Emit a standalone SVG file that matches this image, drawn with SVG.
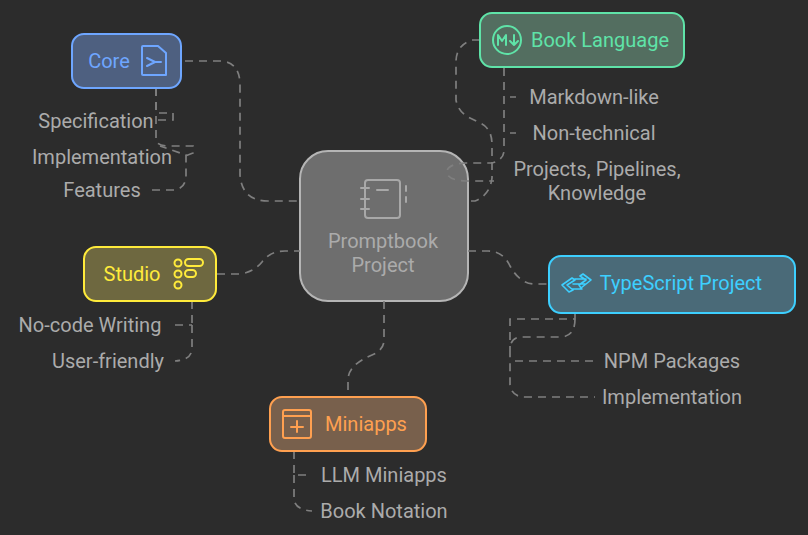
<svg xmlns="http://www.w3.org/2000/svg" width="808" height="535" viewBox="0 0 808 535">
<style>
text{font-family:Roboto,"Liberation Sans",sans-serif;font-size:20px;text-anchor:middle}
.l{fill:#ababab}
.c{fill:none;stroke:#7f7f7f;stroke-width:1.7;stroke-dasharray:8 6}
.i{fill:none;stroke-width:2;stroke-linecap:round;stroke-linejoin:round}
.n{stroke-width:2}
</style>
<rect width="808" height="535" fill="#2c2c2c"/>
<g id="center">
<rect class="n" x="300" y="151" width="168" height="150" rx="28" fill="#6e6e6e" stroke="#b5b5b5"/>
<g class="i" stroke="#a8a8a8">
<rect x="365" y="180" width="35" height="38" rx="3"/>
<path d="M361 188H369M361 199H369M361 209H369M377 190H388M406 186V191M406 197V202"/>
</g>
<text x="383" y="248" class="l">Promptbook</text>
<text x="383" y="272" class="l">Project</text>
</g>
<g id="connectors" class="c">
<path d="M185 61H222Q240 63 240 85V175Q242 201 268 201H300"/>
<path d="M156 88V113H173V120H158"/>
<path d="M156 88V140Q157 146 170 146H193V153L183 157"/>
<path d="M152 190H175Q186 188 186 175V155L160 146"/>
<path d="M480 40H472Q456 45 456 62V100Q458 112 470 118L480 123Q492 128 492 145V178Q490 195 475 201H468"/>
<path d="M504 68V150Q504 160 492 163H466Q447 164 447 172Q447 180 466 181H494"/>
<path d="M510 97H516M510 133H516"/>
<path d="M217 274H240Q254 272 262 262Q270 251 285 251H300"/>
<path d="M192 301V325M175 325H192M192 325V348Q192 360 175 361"/>
<path d="M468 251H488Q503 251 510 266Q520 284 535 284H548"/>
<path d="M575 313V319H510V350M575 319Q575 337 560 337H522Q510 337 510 350V385Q512 397 525 397H595M515 361H595"/>
<path d="M384 301V340Q384 350 372 355Q348 365 348 380V397"/>
<path d="M294 451V475H312M294 475V500Q296 510 312 511"/>
</g>
<g id="core">
<rect class="n" x="72" y="34" width="109" height="54" rx="12" fill="#4e6080" stroke="#6ea6ff"/>
<text x="109" y="68" fill="#6ea6ff">Core</text>
<path class="i" stroke="#6ea6ff" d="M143 46H158L166 53V75H143Q142 75 142 74V47Q142 46 143 46ZM147 58L155 62L147 66M156 62H161"/>
</g>
<g id="book-language">
<rect class="n" x="480" y="13" width="204" height="54" rx="12" fill="#536e60" stroke="#5fe3a8"/>
<text x="600" y="47" fill="#5fe3a8">Book Language</text>
<g class="i" stroke="#5fe3a8"><circle cx="507" cy="40" r="14"/><path d="M498 45V35L502 41L506 35V45M514 35V45M510 41L514 45L518 41"/></g>
</g>
<g id="studio">
<rect class="n" x="84" y="247" width="132" height="54" rx="12" fill="#6e6840" stroke="#ffeb3b"/>
<text x="132" y="281" fill="#ffeb3b">Studio</text>
<g class="i" stroke="#ffeb3b"><circle cx="178" cy="263" r="3.5"/><circle cx="178" cy="274" r="3.5"/><circle cx="178" cy="285" r="3.5"/><rect x="185" y="259" width="18" height="7" rx="3.5"/><rect x="185" y="270" width="11" height="7" rx="3.5"/></g>
</g>
<g id="typescript-project">
<rect class="n" x="549" y="256" width="246" height="57" rx="12" fill="#4a6a78" stroke="#3dcfff"/>
<text x="681" y="290" fill="#3dcfff">TypeScript Project</text>
<path class="i" style="stroke-width:1.6" stroke="#3dcfff" d="M572 278L562 285L569 292L573 290L567 285L575 280ZM583 274L591 280L581 288L579 285L586 280L580 276ZM575 279H586M573 284H585M572 289H582"/>
</g>
<g id="miniapps">
<rect class="n" x="270" y="397" width="156" height="54" rx="12" fill="#78604c" stroke="#ffa050"/>
<text x="366" y="431" fill="#ffa050">Miniapps</text>
<g class="i" stroke="#ffa050"><rect x="283" y="410" width="28" height="28" rx="2"/><path d="M283 416H311M297 421V432M291 427H303"/></g>
</g>
<g id="labels">
<text x="96" y="128" class="l">Specification</text>
<text x="102" y="164" class="l">Implementation</text>
<text x="102" y="197" class="l">Features</text>
<text x="594" y="104" class="l">Markdown-like</text>
<text x="594" y="140" class="l">Non-technical</text>
<text x="597" y="176" class="l">Projects, Pipelines,</text>
<text x="597" y="200" class="l">Knowledge</text>
<text x="90" y="332" class="l">No-code Writing</text>
<text x="108" y="368" class="l">User-friendly</text>
<text x="672" y="368" class="l">NPM Packages</text>
<text x="672" y="404" class="l">Implementation</text>
<text x="384" y="482" class="l">LLM Miniapps</text>
<text x="384" y="518" class="l">Book Notation</text>
</g>
</svg>
